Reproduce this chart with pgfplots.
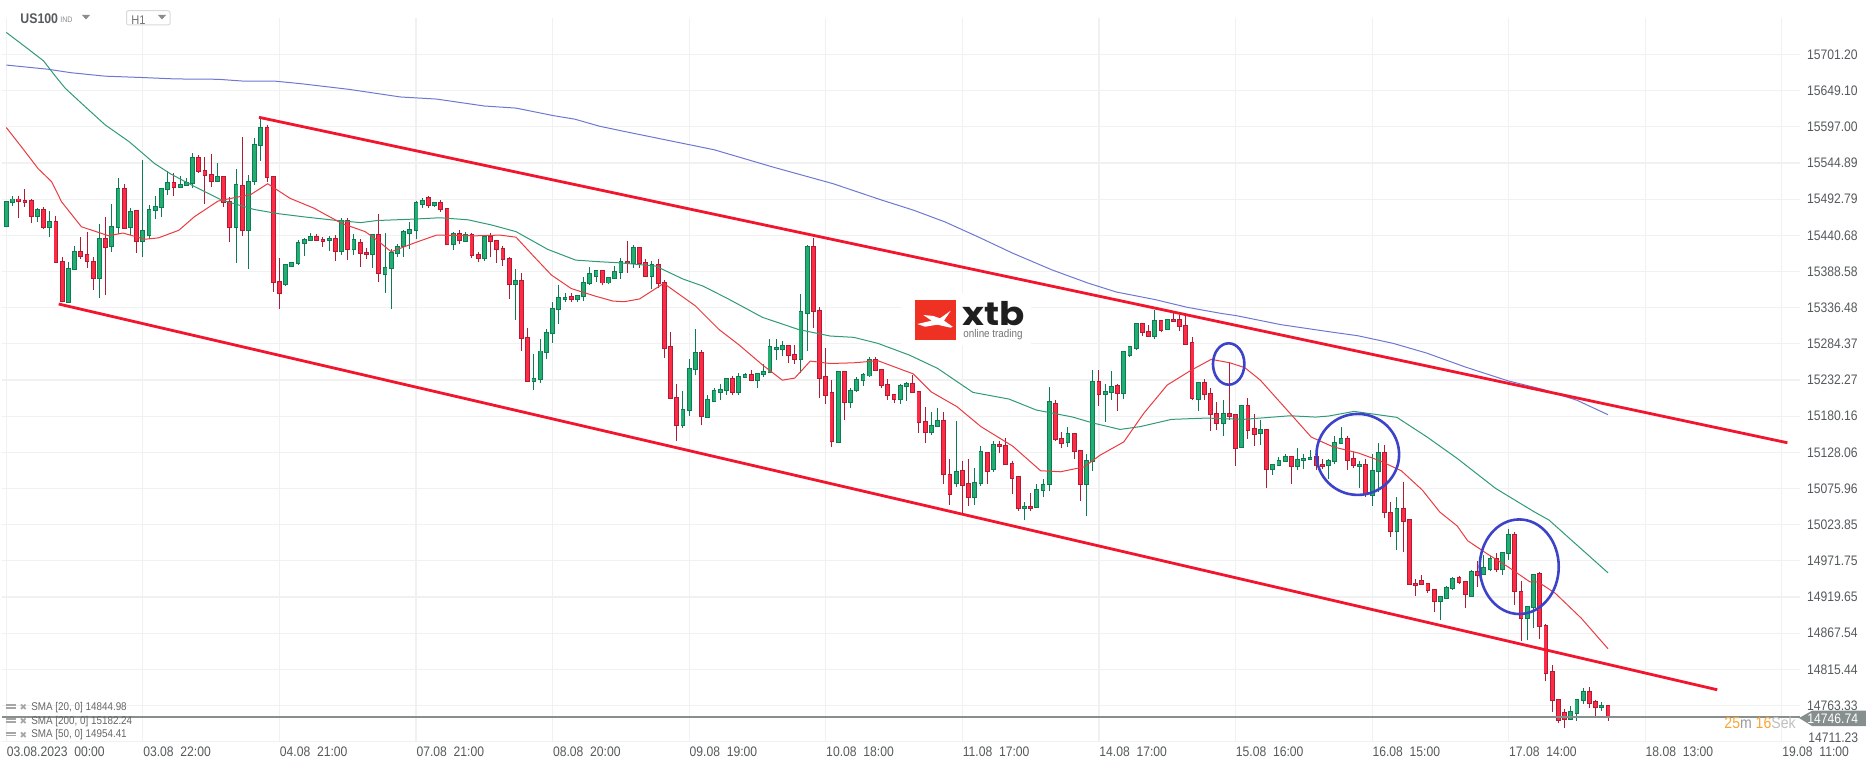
\documentclass[border=0pt]{standalone}
\usepackage{fontspec}
\setmainfont[FakeStretch=0.88]{Liberation Sans}
\newfontfamily\logofont{Poppins}
\newfontfamily\symfont{DejaVu Sans}
\usepackage{pgfplots}
\usepackage{pgfplotstable}
\pgfplotsset{compat=1.18}
\definecolor{gridc}{HTML}{F1F1F1}
\definecolor{tickc}{HTML}{555A5C}
\definecolor{upfill}{HTML}{22AD72}
\definecolor{upline}{HTML}{0E7C53}
\definecolor{downfill}{HTML}{FF2B45}
\definecolor{downline}{HTML}{B01B36}
\definecolor{trend}{HTML}{F2152D}
\definecolor{circ}{HTML}{3D43C9}
\definecolor{smared}{HTML}{EA3B40}
\definecolor{smagreen}{HTML}{2F9A76}
\definecolor{smablue}{HTML}{6E77D2}
\definecolor{lastc}{HTML}{878E8E}
\definecolor{logored}{HTML}{EF3124}
\definecolor{cdorange}{HTML}{F9A532}

% candles, one row per hour: index, open, high, low, close
\pgfplotstableread{
i o h l c
0 15453 15490 15452 15490
1 15488 15498 15483 15493
2 15493 15498 15465 15489
3 15491 15507 15482 15488
4 15491 15493 15458 15468
5 15468 15480 15460 15478
6 15478 15481 15450 15452
7 15452 15476 15438 15461
8 15461 15469 15402 15402
9 15403 15410 15344 15345
10 15344 15402 15344 15393
11 15392 15426 15392 15418
12 15418 15438 15406 15410
13 15413 15446 15394 15403
14 15403 15410 15362 15379
15 15379 15457 15351 15436
16 15436 15467 15354 15423
17 15425 15486 15417 15454
18 15452 15523 15442 15508
19 15508 15514 15450 15451
20 15452 15480 15441 15475
21 15477 15477 15415 15432
22 15432 15549 15409 15448
23 15440 15484 15436 15478
24 15477 15497 15464 15482
25 15481 15508 15467 15508
26 15507 15534 15499 15517
27 15517 15531 15498 15510
28 15510 15526 15509 15514
29 15513 15523 15512 15517
30 15516 15560 15509 15553
31 15553 15556 15531 15533
32 15534 15554 15486 15527
33 15529 15558 15510 15518
34 15518 15545 15518 15526
35 15526 15526 15482 15488
36 15490 15496 15431 15452
37 15452 15536 15401 15514
38 15513 15582 15440 15447
39 15447 15528 15392 15518
40 15518 15581 15513 15572
41 15570 15609 15548 15596
42 15596 15599 15517 15524
43 15526 15526 15359 15373
44 15374 15408 15335 15357
45 15370 15398 15368 15398
46 15396 15402 15396 15402
47 15400 15434 15398 15431
48 15429 15437 15411 15435
49 15433 15444 15433 15439
50 15439 15443 15433 15433
51 15435 15438 15424 15432
52 15433 15439 15418 15436
53 15436 15441 15404 15417
54 15417 15465 15412 15462
55 15462 15465 15405 15420
56 15420 15442 15412 15434
57 15431 15436 15395 15415
58 15416 15422 15407 15413
59 15413 15442 15394 15442
60 15442 15471 15374 15386
61 15384 15444 15358 15395
62 15393 15421 15334 15416
63 15415 15428 15410 15425
64 15424 15448 15410 15446
65 15444 15460 15421 15449
66 15447 15490 15435 15488
67 15485 15494 15480 15491
68 15495 15498 15480 15483
69 15483 15488 15482 15488
70 15488 15492 15475 15478
71 15480 15480 15427 15427
72 15427 15446 15420 15444
73 15444 15448 15428 15433
74 15432 15445 15432 15442
75 15442 15444 15408 15411
76 15413 15417 15402 15407
77 15407 15439 15404 15439
78 15439 15444 15409 15432
79 15433 15433 15401 15420
80 15422 15426 15396 15406
81 15407 15410 15349 15370
82 15370 15392 15319 15376
83 15376 15386 15274 15292
84 15294 15307 15230 15230
85 15230 15270 15218 15235
86 15233 15291 15228 15274
87 15272 15305 15262 15301
88 15299 15345 15286 15335
89 15334 15369 15313 15351
90 15348 15358 15345 15351
91 15353 15357 15345 15348
92 15348 15354 15345 15354
93 15352 15381 15346 15373
94 15371 15395 15369 15385
95 15381 15390 15373 15390
96 15390 15390 15369 15372
97 15372 15380 15370 15380
98 15378 15397 15378 15389
99 15387 15408 15378 15403
100 15403 15432 15387 15400
101 15400 15427 15394 15423
102 15423 15423 15394 15400
103 15402 15406 15382 15382
104 15382 15403 15363 15399
105 15399 15406 15365 15371
106 15373 15376 15264 15277
107 15281 15301 15206 15206
108 15207 15226 15145 15166
109 15166 15217 15163 15190
110 15188 15262 15181 15249
111 15247 15305 15239 15272
112 15272 15275 15167 15179
113 15178 15210 15178 15204
114 15201 15220 15201 15217
115 15214 15226 15203 15219
116 15217 15235 15211 15235
117 15235 15238 15210 15214
118 15214 15243 15211 15237
119 15236 15242 15236 15240
120 15240 15247 15232 15232
121 15232 15242 15220 15242
122 15240 15256 15237 15245
123 15243 15292 15242 15281
124 15276 15291 15261 15279
125 15276 15289 15267 15282
126 15282 15282 15257 15268
127 15269 15282 15256 15262
128 15262 15356 15243 15331
129 15328 15427 15274 15424
130 15424 15437 15307 15331
131 15332 15337 15207 15235
132 15237 15279 15197 15210
133 15214 15232 15135 15143
134 15142 15245 15141 15245
135 15245 15245 15175 15200
136 15200 15220 15192 15217
137 15217 15236 15215 15233
138 15231 15243 15224 15240
139 15238 15266 15237 15262
140 15262 15265 15246 15246
141 15247 15247 15220 15224
142 15226 15234 15204 15210
143 15211 15211 15199 15204
144 15204 15227 15197 15224
145 15223 15230 15202 15227
146 15227 15240 15214 15214
147 15216 15216 15156 15171
148 15173 15194 15141 15156
149 15156 15186 15153 15167
150 15165 15192 15165 15174
151 15174 15186 15083 15096
152 15096 15118 15052 15067
153 15083 15173 15078 15100
154 15102 15115 15040 15080
155 15083 15118 15051 15063
156 15063 15106 15052 15085
157 15083 15137 15080 15129
158 15128 15129 15082 15100
159 15103 15145 15100 15139
160 15139 15145 15127 15137
161 15138 15148 15110 15110
162 15112 15116 15068 15091
163 15093 15093 15044 15047
164 15047 15057 15030 15050
165 15050 15070 15044 15047
166 15049 15082 15049 15074
167 15073 15089 15063 15082
168 15082 15222 15073 15201
169 15199 15203 15144 15147
170 15148 15158 15134 15141
171 15142 15165 15136 15155
172 15155 15155 15118 15129
173 15131 15131 15058 15082
174 15082 15125 15037 15116
175 15115 15246 15101 15230
176 15230 15246 15195 15211
177 15211 15227 15172 15216
178 15214 15245 15204 15223
179 15224 15227 15188 15213
180 15213 15273 15205 15273
181 15268 15281 15266 15281
182 15278 15315 15275 15314
183 15314 15314 15295 15301
184 15302 15312 15295 15295
185 15295 15333 15292 15318
186 15318 15318 15301 15304
187 15305 15320 15305 15320
188 15320 15331 15317 15317
189 15320 15326 15303 15310
190 15311 15328 15284 15284
191 15286 15294 15203 15206
192 15204 15230 15188 15229
193 15229 15233 15203 15211
194 15213 15220 15159 15183
195 15184 15200 15160 15170
196 15170 15203 15151 15184
197 15184 15258 15175 15179
198 15183 15183 15108 15133
199 15135 15196 15135 15196
200 15196 15207 15147 15160
201 15162 15183 15137 15154
202 15155 15175 15139 15161
203 15161 15162 15076 15103
204 15103 15111 15095 15111
205 15109 15122 15109 15116
206 15115 15126 15115 15122
207 15122 15122 15082 15108
208 15107 15134 15102 15118
209 15116 15126 15104 15119
210 15118 15132 15118 15121
211 15122 15122 15102 15109
212 15111 15119 15104 15108
213 15109 15119 15090 15116
214 15115 15152 15111 15142
215 15141 15164 15141 15148
216 15148 15151 15103 15116
217 15119 15128 15106 15109
218 15108 15116 15077 15111
219 15111 15118 15064 15067
220 15066 15126 15051 15102
221 15101 15142 15071 15128
222 15128 15139 15033 15042
223 15041 15057 15006 15014
224 15014 15064 14988 15047
225 15047 15085 14984 15029
226 15031 15031 14938 14938
227 14939 14946 14921 14936
228 14943 14951 14938 14938
229 14939 14939 14926 14929
230 14931 14931 14898 14913
231 14913 14920 14886 14920
232 14918 14935 14916 14933
233 14932 14948 14930 14946
234 14948 14950 14939 14941
235 14942 14942 14904 14923
236 14921 14959 14921 14956
237 14956 14971 14934 14950
238 14952 14980 14952 14962
239 14959 14979 14957 14975
240 14975 14983 14955 14959
241 14959 14985 14952 14984
242 14982 15017 14973 15010
243 15010 15013 14908 14928
244 14928 14943 14856 14888
245 14888 14907 14857 14906
246 14904 14953 14875 14952
247 14953 14956 14859 14877
248 14879 14881 14798 14810
249 14812 14821 14754 14770
250 14772 14773 14738 14742
251 14753 14758 14731 14743
252 14743 14762 14743 14755
253 14752 14773 14741 14772
254 14771 14789 14766 14784
255 14784 14790 14760 14766
256 14769 14771 14746 14760
257 14760 14769 14756 14763
258 14763 14763 14741 14746.74
}\ohlc

\begin{document}
\begin{tikzpicture}
\path[use as bounding box] (-1pt,-12.7pt) rectangle (932pt,370.8pt);
\begin{axis}[
  at={(0,0)}, anchor=south west,
  scale only axis, width=899pt, height=361.8pt,
  xmin=-0.693, xmax=288.93,
  ymin=14711.23, ymax=15753.8,
  scaled ticks=false,
  axis line style={draw=none},
  major tick length=0pt,
  grid=major, grid style={gridc, line width=0.6pt},
  xtick={0,22,...,286},
  xticklabels={03.08.2023\ \ 00:00,03.08\ \ 22:00,04.08\ \ 21:00,07.08\ \ 21:00,08.08\ \ 20:00,09.08\ \ 19:00,10.08\ \ 18:00,11.08\ \ 17:00,14.08\ \ 17:00,15.08\ \ 16:00,16.08\ \ 15:00,17.08\ \ 14:00,18.08\ \ 13:00,19.08\ \ 11:00},
  xticklabel style={anchor=north west, font=\fontsize{6.9}{8}\selectfont, text=tickc, yshift=0.7pt, xshift=-3.3pt},
  xtick pos=bottom,
  ytick={15701.20,15649.10,15597.00,15544.89,15492.79,15440.68,15388.58,15336.48,15284.37,15232.27,15180.16,15128.06,15075.96,15023.85,14971.75,14919.65,14867.54,14815.44,14763.33,14711.23},
  yticklabels={15701.20,15649.10,15597.00,15544.89,15492.79,15440.68,15388.58,15336.48,15284.37,15232.27,15180.16,15128.06,15075.96,15023.85,14971.75,14919.65,14867.54,14815.44,14763.33,},
  ytick pos=right, yticklabel pos=right,
  yticklabel style={anchor=west, font=\fontsize{6.9}{8}\selectfont, text=tickc, xshift=0pt},
  unbounded coords=discard,
]
% wicks
\addplot[draw=none, no markers, error bars/.cd, y dir=plus, y explicit, error mark=none,
  error bar style={line width=0.5pt, upline}]
  table[x expr={\thisrow{c}>\thisrow{o} ? \thisrow{i} : nan}, y=l, y error plus expr={\thisrow{h}-\thisrow{l}}] {\ohlc};
\addplot[draw=none, no markers, error bars/.cd, y dir=plus, y explicit, error mark=none,
  error bar style={line width=0.5pt, downline}]
  table[x expr={\thisrow{c}>\thisrow{o} ? nan : \thisrow{i}}, y=l, y error plus expr={\thisrow{h}-\thisrow{l}}] {\ohlc};
% body outlines
\addplot[draw=none, no markers, error bars/.cd, y dir=plus, y explicit, error mark=none,
  error bar style={line width=2.4pt, upline}]
  table[x expr={\thisrow{c}>\thisrow{o} ? \thisrow{i} : nan}, y expr={\thisrow{o}-0.7}, y error plus expr={\thisrow{c}-\thisrow{o}+1.4}] {\ohlc};
\addplot[draw=none, no markers, error bars/.cd, y dir=plus, y explicit, error mark=none,
  error bar style={line width=2.4pt, downline}]
  table[x expr={\thisrow{c}>\thisrow{o} ? nan : \thisrow{i}}, y expr={\thisrow{c}-0.7}, y error plus expr={\thisrow{o}-\thisrow{c}+1.4}] {\ohlc};
% body fills
\addplot[draw=none, no markers, error bars/.cd, y dir=plus, y explicit, error mark=none,
  error bar style={line width=1.5pt, upfill}]
  table[x expr={\thisrow{c}>\thisrow{o} ? \thisrow{i} : nan}, y expr={\thisrow{o}+0.7}, y error plus expr={\thisrow{c}-\thisrow{o}-1.4}] {\ohlc};
\addplot[draw=none, no markers, error bars/.cd, y dir=plus, y explicit, error mark=none,
  error bar style={line width=1.5pt, downfill}]
  table[x expr={\thisrow{c}>\thisrow{o} ? nan : \thisrow{i}}, y expr={\thisrow{c}+0.7}, y error plus expr={\thisrow{o}-\thisrow{c}-1.4}] {\ohlc};

% last price
\addplot[lastc, line width=0.55pt] coordinates {(-0.693,14746.74) (288.93,14746.74)};

% SMA 200
\addplot[smablue, line width=0.5pt] coordinates {
(0,15686)(6.7,15680)(10.4,15675)(15.9,15670)(22,15668)(27.2,15666)(34.1,15665.5)(38,15663)(43.1,15663)
(47.6,15659)(55.2,15651)(63.5,15640)(69.3,15637)(77,15627)(82.1,15624)(88.2,15613)(91.6,15608)(95.5,15598)
(99.2,15591)(114,15564)(123.5,15539)(133.2,15515)(141,15491.5)(146.1,15477)(151.2,15460)(156.4,15439)
(162.1,15415)(168.4,15391)(174.2,15372)(178.8,15359)(185.1,15348)(190.2,15337)(195.8,15328)(198.1,15325)
(205.3,15312)(212.9,15302)(217.7,15296)(223.4,15285)(228.8,15271)(235,15251)(241.9,15231)(247.4,15219)
(253,15203)(258,15182.24)};
% SMA 50
\addplot[smagreen, line width=0.5pt] coordinates {
(0,15733)(3.1,15712)(6,15692)(7.9,15670)(9.5,15652.5)(12.1,15631)(15.9,15600)(19.8,15575.5)(23.9,15544)
(26.5,15529)(30.3,15511)(34.7,15491.5)(39.9,15478)(43.7,15472)(48.2,15467)(53.3,15462)(57.1,15459)(59.7,15462)
(65.5,15464)(69.9,15466)(74.4,15463)(78.2,15455.5)(82.1,15446)(87.2,15420.5)(91.7,15405)(95.6,15402.6)
(98.9,15401)(104.6,15396.4)(109,15377.7)(112.2,15367.6)(116.1,15350)(121.8,15322.5)(127.6,15305)(132.7,15295.6)
(136.5,15293.7)(140.4,15285)(145.5,15268)(150,15249)(155.7,15214.4)(161.5,15204.8)(165.9,15189)(171.7,15179)
(174.9,15170.6)(179.4,15161)(182.6,15165)(187.7,15175.5)(193.4,15177.4)(199.2,15175.5)(202,15177.4)(206.8,15180.7)
(210.9,15178.8)(213,15180.3)(217.1,15187)(224,15178.4)(228.8,15150.4)(233.7,15119.3)(239.9,15076)(246.1,15042.4)
(248.5,15030.4)(253,14994.4)(258,14954.41)};
% SMA 20
\addplot[smared, line width=0.5pt] coordinates {
(0,15596)(2.8,15564)(5.1,15537)(7.3,15518)(8.9,15489)(12.1,15453)(16.5,15440)(18.8,15444)(22.3,15435)(24.5,15437)
(27.8,15448)(30.3,15467.5)(34.1,15490)(37.3,15496)(39.3,15499)(42.1,15515)(45.7,15494)(49.5,15480)(54,15458)
(57.8,15446)(59.7,15434)(62,15417)(65.5,15429)(69.3,15441)(75.7,15440)(79.5,15441)(82.1,15438)(85,15410)
(87.8,15383.5)(91,15364)(94.9,15353)(97.7,15346)(99.5,15345)(102,15349)(105.9,15371.5)(111,15339)(114.8,15305)
(118,15283)(121.8,15254)(125,15232)(127,15235)(129.5,15259.5)(132.7,15256)(136.5,15257)(140.4,15260)(146.1,15241)
(149,15215)(153.1,15194)(157,15165)(162.1,15137)(166.6,15101.5)(169.8,15100)(173.6,15107)(176.2,15124)(180,15143)
(183.2,15184)(187,15225)(190.9,15246.6)(194.1,15262)(197.1,15257)(199.5,15250)(202,15232)(206.1,15191)(210.2,15150)
(213.7,15136)(217.8,15127)(221.2,15116)(224.7,15101.5)(228.1,15073.6)(230.9,15042)(233.7,15022)(235.4,15000.6)
(238.5,14982)(241.9,14963)(245.4,14941.5)(246.7,14941.5)(249.5,14925)(253.7,14889)(258,14844.98)};

% channel
\addplot[trend, line width=1.4pt] coordinates {(40.7,15610.7)(286.9,15141.8)};
\addplot[trend, line width=1.4pt] coordinates {(8.44,15341.7)(275.6,14785.9)};

% circled spots
\draw[circ, line width=1.3pt] (axis cs:196.9,15255.3) ellipse [x radius=7.85pt, y radius=10.35pt];
\draw[circ, line width=1.3pt] (axis cs:217.7,15125) ellipse [x radius=20.65pt, y radius=20.25pt];
\draw[circ, line width=1.3pt] (axis cs:243.7,14963.2) ellipse [x radius=19.75pt, y radius=23.65pt];
\end{axis}

% everything below is placed in reference pixels, y downwards
\begin{scope}[x=0.5pt, y=-0.5pt, shift={(-1pt,370.8pt)}]
  % logo
  \fill[white] (901,293) rectangle (1031,345);
  \fill[logored] (915,300) rectangle (955.7,340);
  \fill[white] (923.3,315)--(933.3,316)--(940,318.3)--(950.7,310.7)--(944,320.7)--(952.7,326.7)--(950.7,327.7)--(937.3,324.7)--(925,326.7)--(917.3,324)--(931.7,320.7)--cycle;
  \node[anchor=west, inner sep=0pt, text=black!88] at (962,314) {\scalebox{1.2}[1.05]{\fontsize{15.5}{16}\logofont\bfseries xtb}};
  \node[anchor=west, inner sep=0pt, text=black!55] at (963,335) {\fontsize{5.6}{6}\selectfont online trading};

  % header
  \node[anchor=west, inner sep=0pt, text=tickc] at (20,19) {\fontsize{7}{8}\selectfont\bfseries US100};
  \node[anchor=west, inner sep=0pt, text=black!45] at (60,19.5) {\fontsize{4}{5}\selectfont IND};
  \fill[black!45] (82,15)--(90,15)--(86,19.5)--cycle;
  \draw[black!15, line width=0.5pt, rounded corners=1pt] (126.6,10.7) rectangle (170,25);
  \node[anchor=west, inner sep=0pt, text=black!55] at (131,20) {\fontsize{6.3}{7}\selectfont H1};
  \fill[black!45] (158,15)--(166,15)--(162,19.5)--cycle;

  % price tag and countdown
  \fill[lastc] (1799,718)--(1812,710.7)--(1866,710.7)--(1866,726)--(1812,726)--cycle;
  \node[anchor=west, inner sep=0pt, text=white] at (1807,718.3) {\fontsize{6.9}{8}\selectfont 14746.74};
  \node[anchor=west, inner sep=0pt] at (1724,722.7) {\fontsize{8}{9}\selectfont\textcolor{cdorange}{25}\textcolor{black!40}{m} \textcolor{cdorange}{16}\textcolor{black!25}{Sek}};
  \node[anchor=west, inner sep=0pt, text=tickc] at (1808,737.7) {\fontsize{6.9}{8}\selectfont 14711.23};

  % indicator list
  \foreach \yy/\lab in {707.3/{SMA  [20,  0] 14844.98},721.3/{SMA  [200,  0] 15182.24},735/{SMA  [50,  0] 14954.41}}{
    \fill[black!35] (6,\yy-3.5) rectangle (16,\yy-1);
    \fill[black!35] (6,\yy) rectangle (16,\yy+1.2);
    \node[inner sep=0pt, text=black!35] at (23.5,\yy) {\symfont\fontsize{4.5}{5}\selectfont ✖};
    \node[anchor=west, inner sep=0pt, text=black!60] at (31,\yy) {\fontsize{5.6}{6}\selectfont\lab};
  }
\end{scope}
\end{tikzpicture}
\end{document}
